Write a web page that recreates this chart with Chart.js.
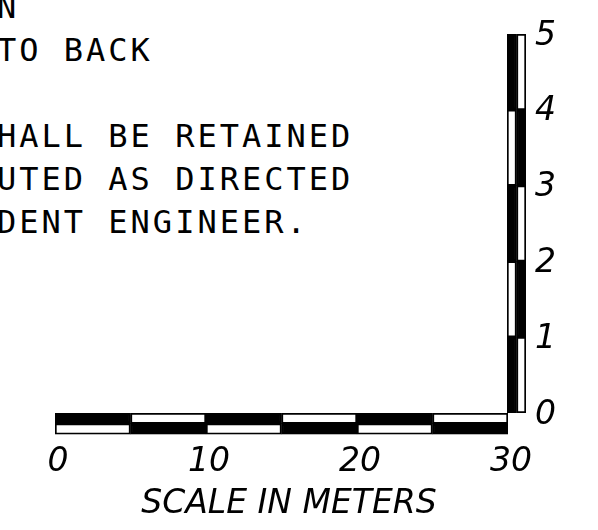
<!DOCTYPE html>
<html>
<head>
<meta charset="utf-8">
<script src="https://cdn.jsdelivr.net/npm/chart.js@4/dist/chart.umd.min.js"></script>
<style>
  html, body { margin: 0; padding: 0; background: #fff; }
  #wrap { position: relative; width: 598px; height: 530px; overflow: hidden; background: #fff; }
  #wrap canvas { position: absolute; left: 0; top: 0; }
  #notes {
    position: absolute; left: -3px; top: -14px; margin: 0;
    font: 32px "DejaVu Sans Mono", monospace; letter-spacing: 3px;
    line-height: 43px; white-space: pre; color: #000;
  }
</style>
</head>
<body>
<div id="wrap">
  <pre id="notes"></pre>
  <canvas id="hbar" width="598" height="530"></canvas>
  <canvas id="vbar" width="598" height="530"></canvas>
</div>
<script>
// ─── data ───
const noteLines = ['N', 'TO BACK', '', 'HALL BE RETAINED', 'UTED AS DIRECTED', 'DENT ENGINEER.'];

// horizontal scale: meters
const hRows = ['top', 'bottom'];
const hBounds = [0, 5, 10, 15, 20, 25, 30];
const hTicks = [0, 10, 20, 30];

// vertical scale: meters (exaggerated)
const vCols = ['left', 'right'];
const vBounds = [0, 1, 2, 3, 4, 5];
const vTicks = [0, 1, 2, 3, 4, 5];

const ink = '#000';
const paper = '#fff';
const tickFont = { family: 'DejaVu Sans', size: 33, style: 'italic' };

document.getElementById('notes').textContent = noteLines.join('\n');

// one dataset per segment, checkerboard over the two rows / columns
function segments(bounds) {
  const out = [];
  for (let i = 0; i < bounds.length - 1; i++) {
    const seg = [bounds[i], bounds[i + 1]];
    out.push({
      data: [seg, seg],
      backgroundColor: i % 2 === 0 ? [ink, paper] : [paper, ink],
      borderColor: ink, borderWidth: 2, borderSkipped: false,
      grouped: false, categoryPercentage: 1, barPercentage: 1
    });
  }
  return out;
}

const common = {
  responsive: false, animation: false, events: [],
  plugins: { legend: { display: false }, tooltip: { enabled: false } }
};

// ─── horizontal bar (0-30 m) ───
new Chart(document.getElementById('hbar'), {
  type: 'bar',
  data: { labels: hRows, datasets: segments(hBounds) },
  options: {
    ...common,
    indexAxis: 'y',
    layout: { padding: { left: 55, right: 75, top: 413, bottom: 0 } },
    plugins: {
      ...common.plugins,
      title: {
        display: true, position: 'bottom', text: 'SCALE IN METERS', color: ink,
        font: { family: 'DejaVu Sans', size: 33, style: 'italic', weight: 'normal' },
        padding: { top: 4, bottom: 6 }
      }
    },
    scales: {
      // empty strip on the right so the title centres a bit right of the bar
      y: {
        position: 'right', ticks: { display: false },
        grid: { display: false, drawTicks: false }, border: { display: false },
        afterFit: s => { s.width = 15; }
      },
      x: {
        type: 'linear', min: 0, max: 30,
        grid: { display: false, drawTicks: false }, border: { display: false },
        afterBuildTicks: s => { s.ticks = hTicks.map(v => ({ value: v })); },
        afterFit: s => { s.height = 46; },
        ticks: { padding: 8, labelOffset: 3, color: ink, font: tickFont, maxRotation: 0 }
      }
    }
  }
});

// ─── vertical bar (0-5 m) ───
new Chart(document.getElementById('vbar'), {
  type: 'bar',
  data: { labels: vCols, datasets: segments(vBounds) },
  options: {
    ...common,
    layout: { padding: { left: 507, right: 42, top: 34, bottom: 117 } },
    scales: {
      x: { display: false },
      y: {
        type: 'linear', position: 'right', min: 0, max: 5,
        grid: { display: false, drawTicks: false }, border: { display: false },
        afterBuildTicks: s => { s.ticks = vTicks.map(v => ({ value: v })); },
        afterFit: s => { s.width = 30; },
        ticks: { padding: 9, labelOffset: 2, color: ink, font: tickFont }
      }
    }
  }
});
</script>
</body>
</html>
